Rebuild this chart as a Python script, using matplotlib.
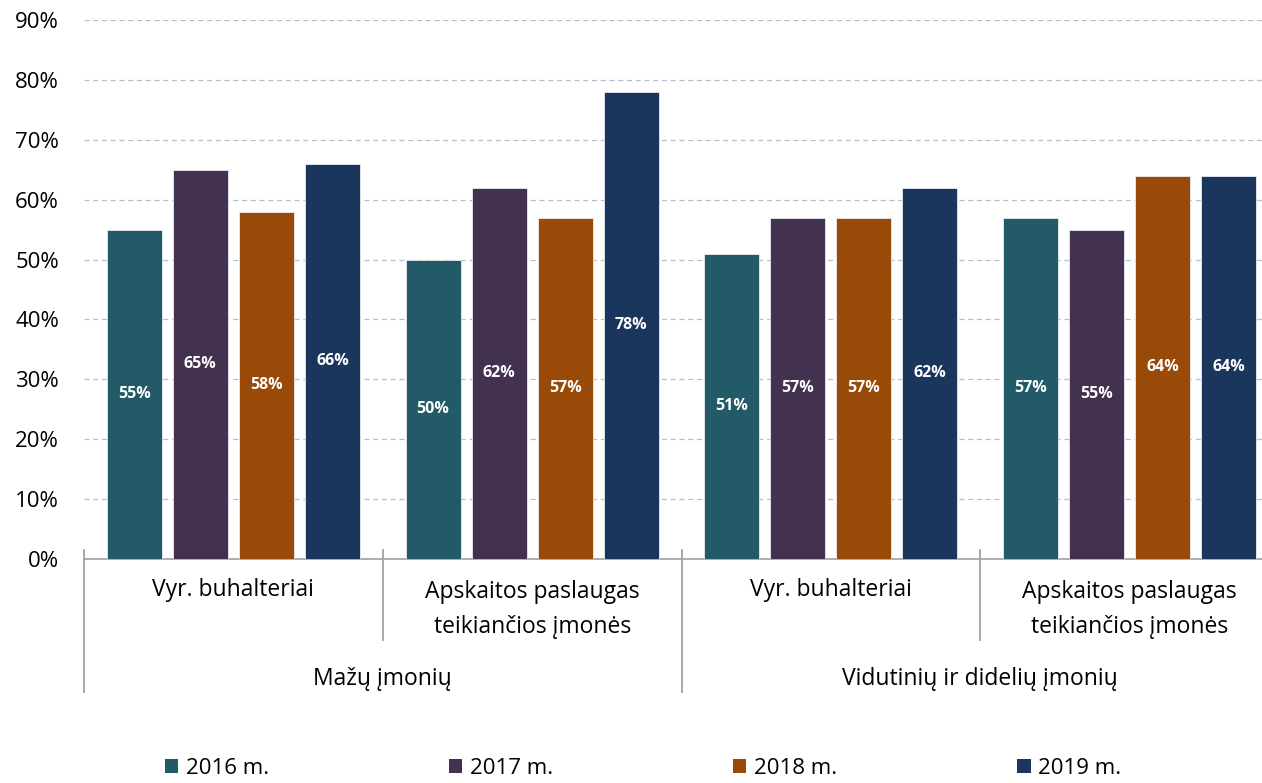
import matplotlib
matplotlib.use("Agg")
import matplotlib.pyplot as plt
import matplotlib.transforms as mtransforms
import numpy as np

plt.rcParams['font.family'] = ['Open Sans', 'DejaVu Sans']

categories = ["Vyr. buhalteriai", "Apskaitos paslaugas\nteikiančios įmonės",
              "Vyr. buhalteriai", "Apskaitos paslaugas\nteikiančios įmonės"]
groups = ["Mažų įmonių", "Vidutinių ir didelių įmonių"]
series_names = ["2016 m.", "2017 m.", "2018 m.", "2019 m."]
v2016 = [55, 50, 51, 57]
v2017 = [65, 62, 57, 55]
v2018 = [58, 57, 57, 64]
v2019 = [66, 78, 62, 64]
colors = ["#235A68", "#433150", "#9A4A08", "#1B365D"]

series = [v2016, v2017, v2018, v2019]

fig = plt.figure(figsize=(12.62, 7.83), dpi=100)
ax = fig.add_axes([84/1262, 1 - 559/783, (1279-84)/1262, (559-20)/783])

x = np.arange(len(categories))
bw = 0.184
step = 0.221
for i, (vals, col, name) in enumerate(zip(series, colors, series_names)):
    pos = x + (i - 1.5) * step
    vals_f = np.array(vals) / 100
    ax.bar(pos, vals_f, width=bw, color=col, label=name, zorder=3,
           edgecolor="#E8ECF2", linewidth=0.6)
    for p, v in zip(pos, vals):
        ax.text(p, v / 200, f"{v}%", ha="center", va="center", color="white",
                fontsize=11.5, fontweight="bold", zorder=4)

ax.set_xlim(-0.5, 3.5)
ax.set_ylim(0, 0.9)
ticks = np.arange(0, 0.91, 0.1)
ax.set_yticks(ticks)
ax.set_yticklabels([f"{int(round(t*100))}%" for t in ticks], fontsize=16)
ax.tick_params(axis="y", length=0, pad=18)
ax.set_xticks([])
ax.grid(axis="y", color="#B8BFCC", linestyle=(0, (4, 3)), linewidth=0.9, zorder=0)
for s in ["top", "right", "left"]:
    ax.spines[s].set_visible(False)
ax.spines["bottom"].set_color("#A0A0A0")
ax.spines["bottom"].set_linewidth(1.2)

trans = mtransforms.blended_transform_factory(ax.transData, ax.transAxes)
line_kw = dict(color="#A0A0A0", linewidth=1.3, transform=trans, clip_on=False)
for xs in [-0.5, 1.5, 3.5]:
    ax.plot([xs, xs], [0.0167, -0.247], **line_kw)
for xs in [0.5, 2.5]:
    ax.plot([xs, xs], [0.0167, -0.150], **line_kw)

for xi, c in zip(x, categories):
    ax.text(xi, -0.094 if "\n" in c else -0.0575, c, ha="center", va="center",
            fontsize=16.5, transform=trans, linespacing=1.6)
for gi, g in enumerate(groups):
    ax.text(gi * 2 + 0.5, -0.222, g, ha="center", va="center", fontsize=16.5, transform=trans)

leg = fig.legend(loc="center", bbox_to_anchor=(0.5095, 0.019), ncol=4, frameon=False,
                 fontsize=16, handlelength=0.6, handleheight=0.6, handletextpad=0.35,
                 columnspacing=8.1, borderpad=0.2)
for h in leg.legend_handles:
    h.set_edgecolor("none")

fig.savefig("out.png", dpi=100)
